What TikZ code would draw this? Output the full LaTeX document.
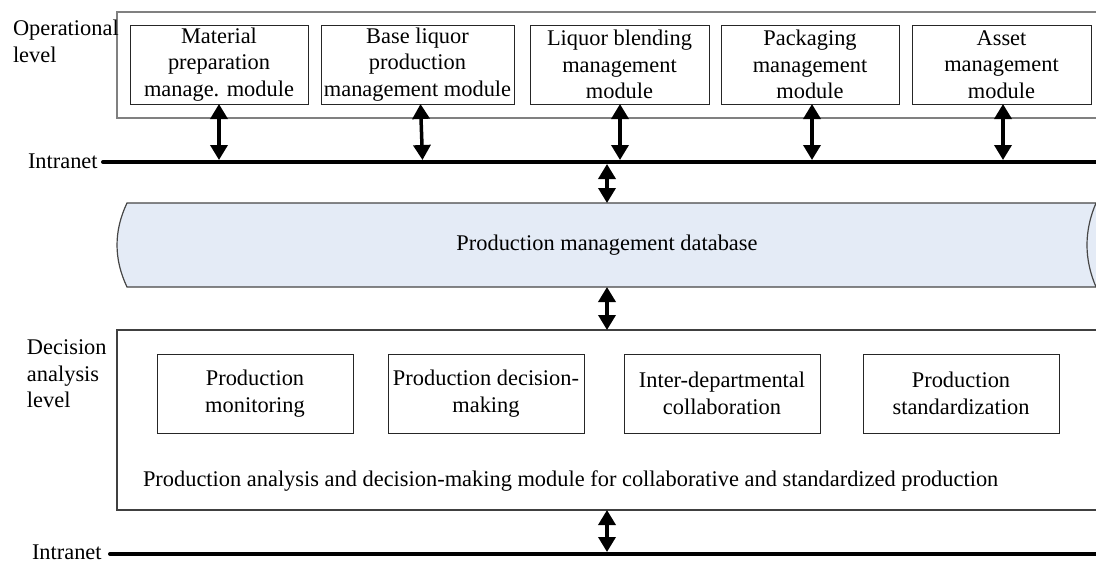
\documentclass[tikz,border=0pt]{standalone}
\usepackage{fontspec}
\setmainfont{Liberation Serif}
\usetikzlibrary{arrows.meta,calc}
\definecolor{dbfill}{RGB}{228,235,246}
\definecolor{dbline}{RGB}{70,70,70}
\definecolor{opline}{RGB}{128,128,128}
\begin{document}
\begin{tikzpicture}[x=1pt,y=-1pt,
  every node/.style={font=\fontsize{22.4}{26.5}\selectfont, inner sep=0pt, outer sep=0pt},
  modbox/.style={draw=black!85, line width=1pt, align=center, minimum height=79pt, execute at begin node=\rule{0pt}{19pt}},
  decbox/.style={draw=black!85, line width=1pt, align=center, minimum height=79pt, minimum width=196pt, execute at begin node=\rule{0pt}{18pt}},
  lvltext/.style={align=left, anchor=north west},
  netline/.style={line width=4pt, line cap=round},
  dblarrow/.style={line width=3.5pt, {Triangle[length=15pt,width=17pt]}-{Triangle[length=15pt,width=17pt]}},
  dbborder/.style={draw=dbline, line width=1.2pt}
]
\useasboundingbox (0,0) rectangle (1096,565);
\fill[white] (0,0) rectangle (1096,565);

% containers
\node[draw=opline, line width=2pt, minimum width=995pt, minimum height=106pt, anchor=north west] (opbox) at (117,12) {};
\node[draw=black!75, line width=1.2pt, minimum width=995pt, minimum height=180pt, anchor=north west] (decbox) at (117,330) {};

% level labels
\node[lvltext] (oplab) at (13,20) {Operational\\level};
\node[lvltext] (declab) at (27,340) {Decision\\analysis\\level};

% operational modules
\node[modbox, minimum width=178pt] (b1) at (219,64.5) {Material\\preparation\\manage. module};
\node[modbox, minimum width=193pt] (b2) at (417.5,64.5) {Base liquor\\production\\management module};
\node[modbox, minimum width=179pt] (b3) at (619.5,64.5) {Liquor blending\\management\\module};
\node[modbox, minimum width=178pt] (b4) at (810,64.5) {Packaging\\management\\module};
\node[modbox, minimum width=179pt] (b5) at (1001.5,64.5) {Asset\\management\\module};

% intranet top
\node[anchor=base west] (net1lab) at (28,168) {Intranet};
\coordinate (net1L) at (103,162);
\coordinate (net1R) at (1105,162);
\draw[netline] (net1L) -- (net1R);
\coordinate (net1top) at (0,160);
\coordinate (net1bot) at (0,164);

% database cylinder
\fill[dbfill] (127,203) -- (1105,203) -- (1105,287) -- (127,287) .. controls (113.7,259) and (113.7,231) .. (127,203) -- cycle;
\draw[dbborder] (1105,203) -- (127,203) .. controls (113.7,231) and (113.7,259) .. (127,287) -- (1105,287);
\draw[dbborder] (1096,203) .. controls (1084,231) and (1084,259) .. (1096,287);
\node[minimum height=84pt] (db) at (607,245) {\raisebox{-3pt}{Production management database}};

% decision modules
\node[decbox] (d1) at (255,393.5) {Production\\monitoring};
\node[decbox] (d2) at (486,393.5) {Production decision-\\making};
\node[decbox] (d3) at (722,393.5) {Inter-departmental\\collaboration};
\node[decbox] (d4) at (961,393.5) {Production\\standardization};
\node[anchor=base west] (dectext) at (143,486) {Production analysis and decision-making module for collaborative and standardized production};

% intranet bottom
\node[anchor=base west] (net2lab) at (32,559.5) {Intranet};
\coordinate (net2L) at (110,554);
\coordinate (net2R) at (1105,554);
\draw[netline] (net2L) -- (net2R);
\coordinate (net2top) at (0,552);

% arrows
\draw[dblarrow] (b1.south) -- (b1.south |- net1top);
\draw[dblarrow] ([xshift=3pt]b2.south) -- ([xshift=5pt]b2.south |- net1top);
\draw[dblarrow] ([xshift=0.5pt]b3.south) -- ([xshift=0.5pt]b3.south |- net1top);
\draw[dblarrow] ([xshift=2pt]b4.south) -- ([xshift=2pt]b4.south |- net1top);
\draw[dblarrow] ([xshift=1.5pt]b5.south) -- ([xshift=1.5pt]b5.south |- net1top);
\draw[dblarrow] (db.north |- net1bot) -- (db.north);
\draw[dblarrow] (db.south) -- (db.south |- decbox.north);
\draw[dblarrow] (db.south |- decbox.south) -- (db.south |- net2top);
\end{tikzpicture}
\end{document}
